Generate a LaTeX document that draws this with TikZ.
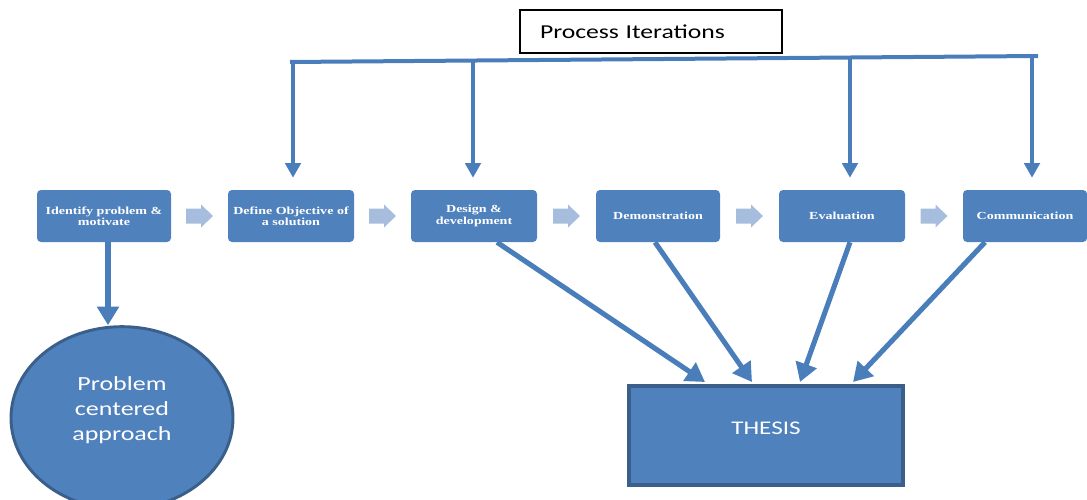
\documentclass[tikz,border=0pt]{standalone}
\usepackage{fontspec}
\usetikzlibrary{shapes.geometric,arrows.meta,calc}
\newfontfamily\labelsans[FakeStretch=1.3]{Carlito}
\newfontfamily\stepserif[FakeStretch=1.3]{Liberation Serif}
\definecolor{stepblue}{RGB}{79,129,189}
\definecolor{linkblue}{RGB}{74,126,187}
\definecolor{rimblue}{RGB}{58,95,139}
\definecolor{chevblue}{RGB}{167,189,221}
\tikzset{
  stepbox/.style={fill=stepblue, rounded corners=3pt, minimum width=94.5pt,
    minimum height=39pt, inner sep=0pt, text=white, align=center,
    font=\stepserif\bfseries\fontsize{8.1}{8.4}\selectfont},
  iterarrow/.style={draw=linkblue, line width=3pt,
    -{Triangle[width=11.5pt,length=11pt]}},
  feedarrow/.style={draw=linkblue, line width=3.8pt,
    -{Triangle[width=16pt,length=14pt]}},
  chev/.pic={\fill[chevblue] (-13.5,-7.5) -- (1.5,-7.5) -- (1.5,-11.5) -- (13.5,0)
      -- (1.5,11.5) -- (1.5,7.5) -- (-13.5,7.5) -- cycle;},
  whitelabel/.style={text=white, align=center, inner sep=0pt}
}
\begin{document}
\begin{tikzpicture}[x=0.75pt,y=-0.75pt]
\useasboundingbox (0,0) rectangle (1087,499);

% title box
\node[draw=black, line width=0.8pt, minimum width=196.5pt, minimum height=32.25pt,
      text width=166.5pt, align=left, inner xsep=15pt,
      font=\labelsans\fontsize{14.8}{16}\selectfont] (iter) at (651,31.5) {Process Iterations};

% process steps
\node[stepbox, minimum width=100.5pt] (b1) at (104,216) {Identify problem \&\\motivate};
\node[stepbox] (b2) at (291,216) {Define Objective of\\a solution};
\node[stepbox] (b3) at (474,216) {Design \&\\development};
\node[stepbox, minimum width=93pt] (b4) at (658,216) {Demonstration};
\node[stepbox] (b5) at (842,216) {Evaluation};
\node[stepbox, minimum width=93pt] (b6) at (1025,216) {Communication};

% chevrons between steps
\foreach \a/\b in {b1/b2,b2/b3,b3/b4,b4/b5,b5/b6}
  \pic at ($(\a.east)!0.5!(\b.west)$) {chev};

% problem centered approach
\node[ellipse, draw=rimblue, line width=2.2pt, fill=stepblue,
      minimum width=166.5pt, minimum height=137pt] (pca) at (122,418) {};
\node[whitelabel, font=\labelsans\fontsize{15}{18.75}\selectfont] (pcatext)
      at (122,410) {Problem\\centered\\approach};

% thesis
\node[draw=rimblue, line width=3pt, fill=stepblue, minimum width=205.5pt,
      minimum height=74.25pt, inner sep=0pt] (thesis) at (766,435.5) {};
\node[whitelabel, font=\labelsans\fontsize{14.5}{16}\selectfont] (thesistext)
      at (766,428) {THESIS};

% iteration bus
\coordinate (busL) at (290,62);
\coordinate (busR) at (1038,56);
\draw[linkblue, line width=3pt] (busL) -- (busR);
\coordinate (i2) at (293,62);
\coordinate (i3) at (473,60.5);
\coordinate (i5) at (850,57.5);
\coordinate (i6) at (1032,56);
\foreach \c/\n in {i2/b2,i3/b3,i5/b5,i6/b6}
  \draw[iterarrow, shorten >=9pt] (\c) -- (\c |- \n.north);

% step to problem centered approach
\draw[feedarrow] ([xshift=3pt]b1.south) -- ([xshift=3pt]b1.south |- pca.north);

% steps feeding the thesis
\draw[feedarrow] ([xshift=17.25pt]b3.south) -- ([xshift=-45.75pt,yshift=1.5pt]thesis.north);
\draw[feedarrow] ([xshift=-2.25pt]b4.south) -- ([xshift=-10.5pt,yshift=1.5pt]thesis.north);
\draw[feedarrow] ([xshift=6pt]b5.south) -- ([xshift=25.5pt,yshift=1.5pt]thesis.north);
\draw[feedarrow] ([xshift=-30pt]b6.south) -- ([xshift=65.25pt,yshift=1.5pt]thesis.north);
\end{tikzpicture}
\end{document}
